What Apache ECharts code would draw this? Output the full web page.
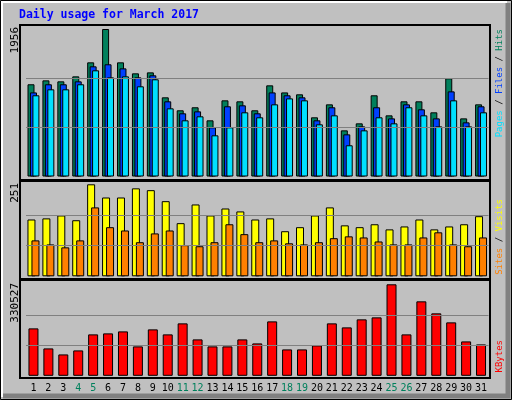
<!DOCTYPE html>
<html lang="en">
<head>
<meta charset="UTF-8">
<title>Daily usage</title>
<script src="https://cdn.jsdelivr.net/npm/echarts@6/dist/echarts.min.js"></script>
<style>
    html,body{margin:0;padding:0;background:#c0c0c0;}
    #main{width:512px;height:400px;}
</style>
</head>
<body>
<div id="main"></div>
<script>
    // days of March 2017
    var days = [];
    for (var d = 1; d <= 31; d++) days.push(String(d));
    var weekend = [4, 5, 11, 12, 18, 19, 25, 26];

    var hits  = [1223,1275,1262,1328,1514,1956,1514,1368,1381,1050,878,918,745,1010,997,878,1209,1115,1090,785,957,612,705,1077,811,997,997,851,1302,771,957];
    var files = [1115,1223,1223,1262,1461,1488,1434,1315,1342,997,838,864,652,931,944,838,1115,1077,1050,745,918,559,665,918,771,957,891,771,1129,718,931];
    var pages = [1077,1156,1156,1223,1408,1315,1328,1196,1289,904,745,798,546,652,851,785,957,1036,1010,692,811,414,612,785,705,918,811,665,1010,665,851];

    var visits = [155,158,166,153,251,215,215,240,235,205,145,196,166,185,177,155,158,123,134,166,188,139,134,142,128,136,155,128,136,142,164];
    var sites  = [98,87,79,98,188,134,125,93,117,125,85,82,93,142,115,93,98,90,87,93,104,109,106,95,87,87,106,120,87,82,106];

    var kbytes = [171300,98900,77200,91700,149600,153200,160400,106200,167700,149600,189400,131500,106200,106200,131500,117000,196600,95300,95300,109800,189400,174900,203900,211100,330527,149600,269000,225600,193000,124200,113400];

    var myChart = echarts.init(document.getElementById('main'));

    var mono = 'DejaVu Sans Mono';
    var gridL = 26, gridR = 23.5;

    function gridLines(max) {
        return {
            silent: true, symbol: 'none', animation: false,
            label: {show: false},
            lineStyle: {color: '#808080', type: 'solid', width: 1},
            data: [{yAxis: max / 3}, {yAxis: max * 2 / 3}]
        };
    }
    function bar(name, data, color, idx, width, gap, ml) {
        var s = {
            name: name, type: 'bar', data: data, xAxisIndex: idx, yAxisIndex: idx,
            barWidth: width, barGap: gap,
            itemStyle: {color: color, borderColor: '#000', borderWidth: 1},
            animation: false
        };
        if (ml) s.markLine = ml;
        return s;
    }
    function xAx(idx, show) {
        return {
            type: 'category', data: days, gridIndex: idx,
            axisLine: {show: false}, axisTick: {show: false},
            axisLabel: {
                show: show, margin: 8, fontFamily: mono, fontSize: 10, interval: 0,
                color: function (v) { return weekend.indexOf(+v) >= 0 ? '#00805c' : '#000'; }
            }
        };
    }
    function yAx(idx, max) {
        return {
            type: 'value', gridIndex: idx, min: 0, max: max,
            axisLine: {show: false}, axisTick: {show: false},
            axisLabel: {show: false}, splitLine: {show: false}
        };
    }
    function panel(y, h) {
        return {type: 'rect', shape: {x: 20, y: y, width: 470, height: h},
            style: {fill: null, stroke: '#000', lineWidth: 2}, z: -1};
    }
    function vtext(x, y, text, color, size) {
        return {type: 'text', x: x, y: y, rotation: Math.PI / 2,
            style: {text: text, fill: color, font: size + 'px ' + mono,
                align: 'right', verticalAlign: 'middle'}};
    }

    var option = {
        backgroundColor: '#c0c0c0',
        animation: false,
        grid: [
            {left: gridL, right: gridR, top: 29, height: 147.5},
            {left: gridL, right: gridR, top: 184.3, height: 92},
            {left: gridL, right: gridR, top: 284.3, height: 91.5}
        ],
        xAxis: [xAx(0, false), xAx(1, false), xAx(2, true)],
        yAxis: [yAx(0, 1956), yAx(1, 251), yAx(2, 330527)],
        series: [
            bar('Hits', hits, '#00805c', 0, 7, '-65%', gridLines(1956)),
            bar('Files', files, '#0040ff', 0, 7, '-65%'),
            bar('Pages', pages, '#00e0ff', 0, 7, '-65%'),
            bar('Visits', visits, '#ffff00', 1, 8, '-50%', gridLines(251)),
            bar('Sites', sites, '#ff8000', 1, 8, '-50%'),
            bar('KBytes', kbytes, '#ff0000', 2, 10, '0%', gridLines(330527))
        ],
        graphic: [
            // outer frame
            {type: 'rect', shape: {x: 0.5, y: 0.5, width: 511, height: 399},
                style: {fill: null, stroke: '#000', lineWidth: 1}, z: -2},
            {type: 'polyline', shape: {points: [[2, 397], [2, 2], [507, 2]]},
                style: {stroke: '#fff', lineWidth: 2, fill: null}, z: -2},
            {type: 'polyline', shape: {points: [[508, 3], [508, 396], [3, 396]]},
                style: {stroke: '#808080', lineWidth: 5, fill: null}, z: -2},
            panel(25, 155), panel(181, 98), panel(280, 98),
            {type: 'text', x: 19, y: 15,
                style: {text: 'Daily usage for March 2017', fill: '#0000ff',
                    font: 'bold 11.5px ' + mono, verticalAlign: 'middle'}},
            vtext(15, 27, '1956', '#000', 11),
            vtext(15, 183, '251', '#000', 11),
            vtext(15, 283, '330527', '#000', 11),
            {type: 'text', x: 500, y: 29, rotation: Math.PI / 2,
                style: {text: '{p|Pages} / {f|Files} / {h|Hits}', font: '9px ' + mono,
                    align: 'right', verticalAlign: 'middle', fill: '#000',
                    rich: {p: {fill: '#00e0ff', font: '9px ' + mono},
                           f: {fill: '#0040ff', font: '9px ' + mono},
                           h: {fill: '#00805c', font: '9px ' + mono}}}},
            {type: 'text', x: 500, y: 199, rotation: Math.PI / 2,
                style: {text: '{s|Sites} / {v|Visits}', font: '9px ' + mono,
                    align: 'right', verticalAlign: 'middle', fill: '#000',
                    rich: {s: {fill: '#ff8000', font: '9px ' + mono},
                           v: {fill: '#ffff00', font: '9px ' + mono}}}},
            vtext(500, 340, 'KBytes', '#ff0000', 9)
        ]
    };
    myChart.setOption(option);
</script>
</body>
</html>
